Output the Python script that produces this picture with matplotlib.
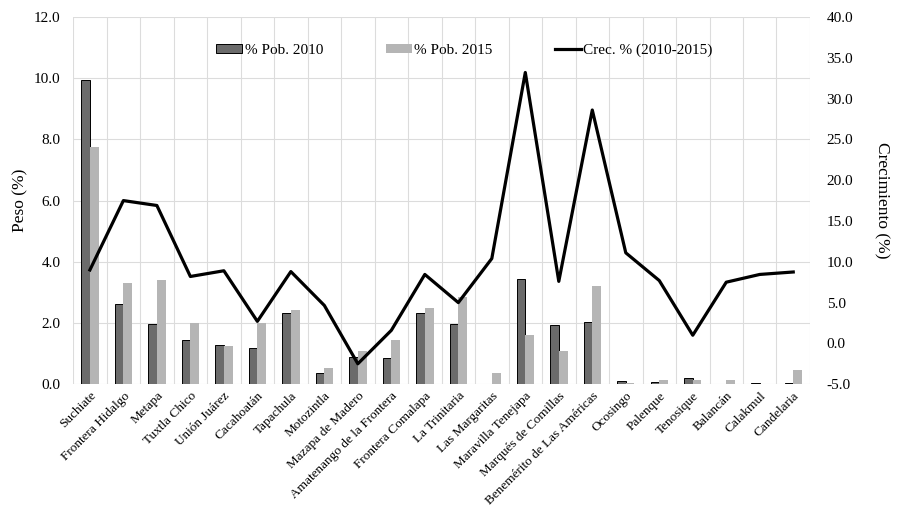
import matplotlib.pyplot as plt
import numpy as np

plt.rcParams['font.family'] = ['Liberation Serif', 'DejaVu Serif']

municipios = ["Suchiate", "Frontera Hidalgo", "Metapa", "Tuxtla Chico", "Unión Juárez",
              "Cacahoatán", "Tapachula", "Motozintla", "Mazapa de Madero",
              "Amatenango de la Frontera", "Frontera Comalapa", "La Trinitaria",
              "Las Margaritas", "Maravilla Tenejapa", "Marqués de Comillas",
              "Benemérito de Las Américas", "Ocosingo", "Palenque", "Tenosique",
              "Balancán", "Calakmul", "Candelaria"]
pob_2010 = [9.95, 2.61, 1.96, 1.44, 1.27, 1.17, 2.32, 0.38, 0.90, 0.85, 2.32, 1.98,
            0.0, 3.44, 1.92, 2.02, 0.10, 0.06, 0.19, 0.02, 0.03, 0.03]
pob_2015 = [7.75, 3.30, 3.40, 2.00, 1.26, 2.00, 2.42, 0.52, 1.10, 1.44, 2.48, 2.85,
            0.36, 1.60, 1.10, 3.21, 0.03, 0.15, 0.15, 0.15, 0.01, 0.45]
crecimiento = [9.0, 17.5, 16.9, 8.2, 8.9, 2.7, 8.8, 4.65, -2.5, 1.6, 8.45, 5.0,
               10.4, 33.2, 7.6, 28.6, 11.1, 7.7, 1.0, 7.5, 8.45, 8.75]

x = np.arange(len(municipios))
w = 0.26

fig, ax = plt.subplots(figsize=(9.03, 5.15), dpi=100)
fig.subplots_adjust(left=0.081, right=0.897, top=0.967, bottom=0.254)

ax.bar(x - w / 2, pob_2010, w, color="#6b6b6b", edgecolor="black", linewidth=0.7,
       label="% Pob. 2010", zorder=2)
ax.bar(x + w / 2, pob_2015, w, color="#b5b5b5", label="% Pob. 2015", zorder=2)
ax.set_ylim(0, 12)
ax.set_yticks(np.arange(0, 12.1, 2))
ax.set_yticklabels([f"{v:.1f}" for v in np.arange(0, 12.1, 2)])
ax.set_xlim(-0.5, len(municipios) - 0.5)
ax.set_xticks(x)
ax.set_xticklabels(municipios, rotation=45, ha="right", rotation_mode="anchor")
ax.set_xticks(np.arange(-0.5, len(municipios)), minor=True)
ax.grid(axis="y", color="#dcdcdc", linewidth=0.8, zorder=0)
ax.grid(axis="x", which="minor", color="#dcdcdc", linewidth=0.8, zorder=0)
ax.tick_params(axis="both", which="both", length=0, labelsize=11)
ax.tick_params(axis="y", pad=9)
ax.tick_params(axis="x", labelsize=9.5, pad=4)
ax.set_ylabel("Peso (%)", fontsize=12.5)
for s in ax.spines.values():
    s.set_visible(False)
ax.set_axisbelow(True)

ax2 = ax.twinx()
ax2.plot(x, crecimiento, color="black", linewidth=2.3, label="Crec. % (2010-2015)", zorder=3)
ax2.set_ylim(-5, 40)
ax2.set_yticks(np.arange(-5, 40.1, 5))
ax2.set_yticklabels([f"{v:.1f}" for v in np.arange(-5, 40.1, 5)])
ax2.tick_params(axis="y", length=0, labelsize=11, pad=12)
ax2.set_ylabel("Crecimiento (%)", fontsize=12.5, rotation=270, labelpad=26)
for s in ax2.spines.values():
    s.set_visible(False)

h1, l1 = ax.get_legend_handles_labels()
h2, l2 = ax2.get_legend_handles_labels()
ax2.legend(h1 + h2, l1 + l2, loc="center", ncol=3, frameon=False, fontsize=11,
           bbox_to_anchor=(0.531, 0.91), columnspacing=4.1, handlelength=1.7,
           handleheight=0.5, handletextpad=0.15)

plt.savefig("out.png")
